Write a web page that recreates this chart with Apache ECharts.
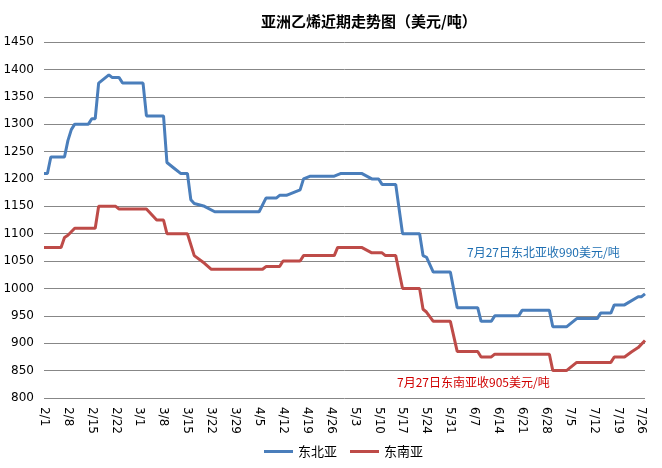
<!DOCTYPE html>
<html>
<head>
<meta charset="utf-8">
<script src="https://cdn.jsdelivr.net/npm/echarts@6/dist/echarts.min.js"></script>
<style>html,body{margin:0;padding:0;background:#fff}#c{width:662px;height:468px}</style>
</head>
<body>
<div id="c"></div>
<script>
// Weekly tick labels on the x axis
var tickLabels = ['2/1','2/8','2/15','2/22','3/1','3/8','3/15','3/22','3/29','4/5','4/12','4/19','4/26','5/3','5/10','5/17','5/24','5/31','6/7','6/14','6/21','6/28','7/5','7/12','7/19','7/26'];
var seriesNames = ['东北亚','东南亚'];
// 东北亚 (date, USD/t) at the points where the line turns
var neAsia = [
  ['2/1',1210],['2/2',1210],['2/3',1240],['2/7',1240],['2/8',1270],['2/9',1290],['2/10',1300],
  ['2/14',1300],['2/15',1310],['2/16',1310],['2/17',1375],['2/20',1390],['2/21',1385],['2/23',1385],
  ['2/24',1375],['3/2',1375],['3/3',1315],['3/8',1315],['3/9',1230],['3/11',1220],['3/13',1210],
  ['3/15',1210],['3/16',1162],['3/17',1155],['3/20',1150],['3/23',1140],['4/5',1140],['4/7',1165],
  ['4/10',1165],['4/11',1170],['4/13',1170],['4/17',1180],['4/18',1200],['4/20',1205],['4/27',1205],
  ['4/29',1210],['5/5',1210],['5/8',1200],['5/10',1200],['5/11',1190],['5/15',1190],['5/17',1100],
  ['5/22',1100],['5/23',1060],['5/24',1057],['5/26',1030],['5/31',1030],['6/2',965],['6/8',965],
  ['6/9',940],['6/12',940],['6/13',950],['6/20',950],['6/21',960],['6/29',960],['6/30',930],
  ['7/4',930],['7/7',945],['7/13',945],['7/14',955],['7/17',955],['7/18',970],['7/21',970],
  ['7/25',985],['7/26',985],['7/27',990]
];
// 东南亚 (date, USD/t)
var seAsia = [
  ['2/1',1075],['2/6',1075],['2/7',1093],['2/8',1097],['2/10',1110],['2/16',1110],['2/17',1150],
  ['2/22',1150],['2/23',1145],['3/3',1145],['3/6',1125],['3/8',1125],['3/9',1100],['3/15',1100],
  ['3/17',1060],['3/20',1046],['3/22',1035],['4/6',1035],['4/7',1040],['4/11',1040],['4/12',1050],
  ['4/17',1050],['4/18',1060],['4/27',1060],['4/28',1075],['5/5',1075],['5/8',1065],['5/11',1065],
  ['5/12',1060],['5/15',1060],['5/17',1000],['5/22',1000],['5/23',962],['5/24',957],['5/26',940],
  ['5/31',940],['6/2',885],['6/8',885],['6/9',875],['6/12',875],['6/13',880],['6/29',880],
  ['6/30',850],['7/4',850],['7/7',865],['7/17',865],['7/18',875],['7/21',875],['7/23',884],
  ['7/25',892],['7/27',905]
];
var noteNE = '7月27日东北亚收990美元/吨';
var noteSE = '7月27日东南亚收905美元/吨';

var YEAR = 2013;
var startMs = Date.UTC(YEAR, 1, 1);
function dayIndex(s){
  var p = s.split('/');
  return Math.round((Date.UTC(YEAR, +p[0]-1, +p[1]) - startMs) / 86400000);
}
function toPts(arr){ return arr.map(function(a){ return [dayIndex(a[0]), a[1]]; }); }
var lastDay = dayIndex('7/27');

var chart = echarts.init(document.getElementById('c'), null, {renderer:'canvas'});
var fontF = '"DejaVu Sans", Verdana, sans-serif';
var cjk = '"Noto Sans CJK SC", sans-serif';
chart.setOption({
  animation:false,
  backgroundColor:'#fff',
  title:{
    text:'亚洲乙烯近期走势图（美元/吨）',
    left:256, top:9,
    textStyle:{fontSize:15, fontWeight:'bold', color:'#000', fontFamily:cjk}
  },
  grid:{left:44, right:17, top:42, bottom:70, containLabel:false},
  legend:{
    data:seriesNames, top:440, left:259,
    icon:'rect', itemWidth:29, itemHeight:3, itemGap:13,
    textStyle:{fontSize:13, color:'#000', fontFamily:cjk}
  },
  xAxis:{
    type:'value', min:0, max:lastDay, interval:7,
    axisLine:{show:false}, axisTick:{show:false}, splitLine:{show:false},
    axisLabel:{
      rotate:-90, margin:9, fontSize:12, color:'#000', fontFamily:fontF,
      showMaxLabel:false,
      formatter:function(v){ return (v % 7 === 0 && tickLabels[v/7]) ? tickLabels[v/7] : ''; }
    }
  },
  yAxis:{
    type:'value', min:800, max:1450, interval:50,
    axisLine:{show:false}, axisTick:{show:false},
    splitLine:{lineStyle:{color:'#878787', width:1}},
    axisLabel:{fontSize:12, color:'#000', margin:10, fontFamily:fontF,
      formatter:function(v){ return String(v); }}
  },
  series:[
    {name:seriesNames[0], type:'line', data:toPts(neAsia), symbol:'none',
     lineStyle:{color:'#4A7EBB', width:3}, itemStyle:{color:'#4A7EBB'}},
    {name:seriesNames[1], type:'line', data:toPts(seAsia), symbol:'none',
     lineStyle:{color:'#BE4B48', width:3}, itemStyle:{color:'#BE4B48'}}
  ],
  graphic:[
    {type:'text', left:467, top:246, style:{text:noteNE, fill:'#1F6FB2', fontSize:12, fontFamily:cjk}},
    {type:'text', left:397, top:376, style:{text:noteSE, fill:'#D00000', fontSize:12, fontFamily:cjk}}
  ]
});
</script>
</body>
</html>
